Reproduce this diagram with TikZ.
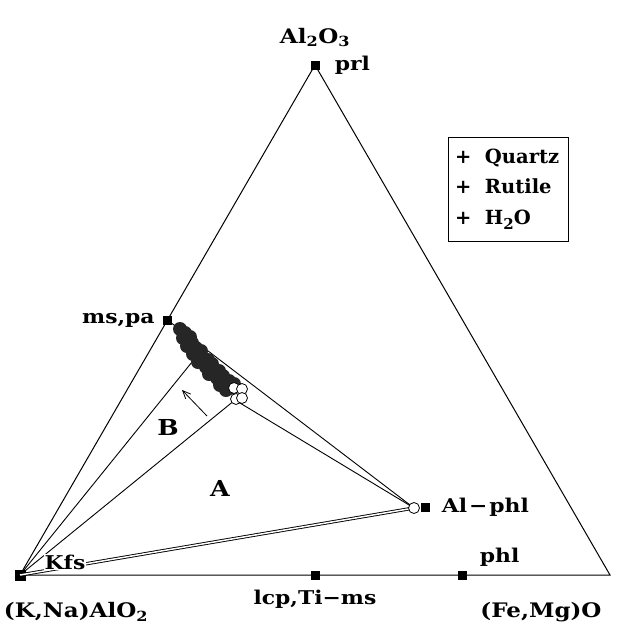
\documentclass[tikz,border=0pt]{standalone}
\usepackage{fontspec}
\setmainfont{DejaVu Serif}
\newfontfamily\lblfont{DejaVu Serif}[FakeStretch=1.15]
\usetikzlibrary{arrows.meta, positioning}

\begin{document}
\begin{tikzpicture}[x=1pt, y=-1pt,
sq/.style={rectangle, fill=black, minimum size=9pt, inner sep=0pt},
lbl/.style={font=\lblfont\bfseries\fontsize{19}{22}\selectfont, inner sep=1pt},
corner/.style={font=\lblfont\bfseries\fontsize{20}{24}\selectfont, inner sep=1pt},
tie/.style={line width=0.9pt},
fdot/.style={circle, fill=black!85, minimum size=14pt, inner sep=0pt},
odot/.style={circle, draw, line width=0.8pt, fill=white, minimum size=11pt, inner sep=0pt},
arr/.style={-{Straight Barb[length=8pt, width=7pt]}, line width=0.8pt}
]
\useasboundingbox (0,0) rectangle (619,635);

% end members and phases
\node[sq] (prl) at (315,65) {};
\node[sq] (ms) at (167.5,320) {};
\node[sq, minimum size=11pt] (kfs) at (20,575) {};
\node[sq] (lcp) at (315,575) {};
\node[sq] (phl) at (462,575) {};
\coordinate (fm) at (610,575);
\coordinate (c1) at (192,362);
\coordinate (c2) at (235,400);
\coordinate (ap) at (414,508);

\draw[line width=1pt] (kfs.center) -- (prl.center) -- (fm) -- cycle;

% tie lines
\draw[tie] (kfs.center) -- (c1);
\draw[tie] (kfs.center) -- (c2) -- (ap);
\draw[tie] (ms.center) -- (ap);
\draw[tie, double, double distance=1.5pt] (kfs.center) -- (ap);

% analyses
\foreach \p in {(180,329),(185,333),(183,338),(190,337),(192,343),(187,346),
  (196,348),(193,354),(201,351),(203,358),(198,362),(208,360),(206,367),
  (212,364),(214,371),(209,374),(219,371),(217,378),(223,376),(225,382),
  (220,385),(229,381),(230,388),(226,390),(234,384)}
  \node[fdot] at \p {};
\foreach \p in {(234,388),(242,389),(236,399),(242,398),(414,508)}
  \node[odot] at \p {};
\node[sq] (alphl) at (425,507) {};

\coordinate (atail) at (207,416);
\coordinate (ahead) at (182,390);
\draw[arr] (atail) -- (ahead);

% labels
\node[corner, above=12pt of prl] (al) {Al\textsubscript{2}O\textsubscript{3}};
\node[lbl, right=14pt of prl] {prl};
\node[lbl, left=7pt of ms] {ms,pa};
\node[lbl, right=11pt of alphl] {Al\kern2pt−\kern2pt phl};
\node[lbl, above right=3pt and 12pt of phl] {phl};
\node[lbl, below=9pt of lcp] {lcp,Ti−ms};
\node[lbl, fill=white, inner sep=0.5pt] (kfslbl) at (65,562) {Kfs};
\node[corner] (kna) at (76,612) {(K,Na)AlO\textsubscript{2}};
\node[corner] (femg) at (541,612) {(Fe,Mg)O};
\node[lbl, font=\lblfont\bfseries\fontsize{22}{24}\selectfont] (fa) at (220,488) {A};
\node[lbl, font=\lblfont\bfseries\fontsize{22}{24}\selectfont] (fb) at (168,427) {B};

\node[draw, line width=0.8pt, align=left, font=\bfseries\fontsize{19.5}{30.5}\selectfont,
  minimum width=120pt, minimum height=104pt, text width=106pt] (key) at (508,189)
  {\makebox[30pt][l]{+}Quartz\\\makebox[30pt][l]{+}Rutile\\
   \makebox[30pt][l]{+}H\raisebox{-5pt}{\fontsize{15}{15}\selectfont 2}O};
\end{tikzpicture}
\end{document}
